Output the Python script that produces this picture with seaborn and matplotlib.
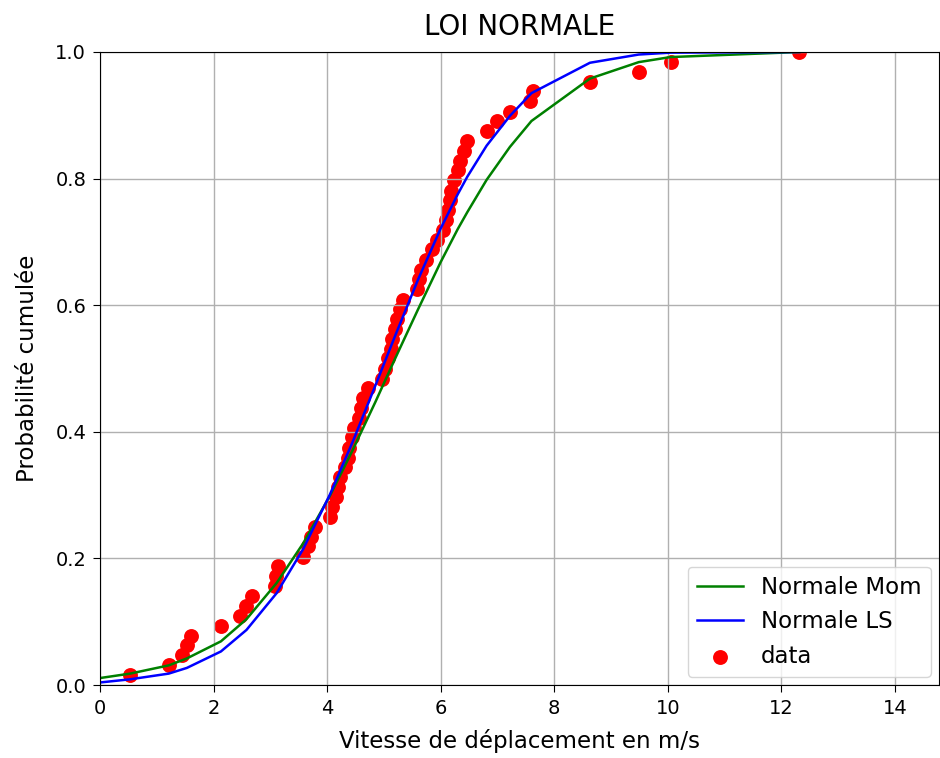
import matplotlib
matplotlib.use("Agg")
import matplotlib.pyplot as plt
import seaborn as sns

# ---- data ----
speed = [0.53, 1.21, 1.44, 1.53, 1.60, 2.13, 2.46, 2.58, 2.67, 3.08,
         3.10, 3.13, 3.58, 3.66, 3.72, 3.79, 4.05, 4.08, 4.15, 4.19,
         4.23, 4.31, 4.36, 4.39, 4.43, 4.47, 4.56, 4.60, 4.63, 4.72,
         4.97, 5.02, 5.08, 5.12, 5.15, 5.20, 5.23, 5.28, 5.34, 5.58,
         5.62, 5.65, 5.74, 5.84, 5.93, 6.04, 6.09, 6.13, 6.16, 6.19,
         6.23, 6.30, 6.35, 6.42, 6.47, 6.81, 7.00, 7.22, 7.57, 7.62,
         8.63, 9.49, 10.06, 12.32]
prob = [0.016, 0.031, 0.047, 0.063, 0.078, 0.094, 0.109, 0.125, 0.141, 0.156,
        0.172, 0.188, 0.203, 0.219, 0.234, 0.250, 0.266, 0.281, 0.297, 0.313,
        0.328, 0.344, 0.359, 0.375, 0.391, 0.406, 0.422, 0.438, 0.453, 0.469,
        0.484, 0.500, 0.516, 0.531, 0.547, 0.563, 0.578, 0.594, 0.609, 0.625,
        0.641, 0.656, 0.672, 0.688, 0.703, 0.719, 0.734, 0.750, 0.766, 0.781,
        0.797, 0.813, 0.828, 0.844, 0.859, 0.875, 0.891, 0.906, 0.922, 0.938,
        0.953, 0.969, 0.984, 1.000]

line_x = [0.0, 0.53, 1.21, 1.53, 2.13, 2.58, 3.11, 3.58, 4.05, 4.45, 4.85,
          5.20, 5.60, 6.00, 6.30, 6.47, 6.81, 7.22, 7.60, 8.63, 9.49, 10.05, 12.32]
mom_y = [0.011, 0.018, 0.031, 0.042, 0.069, 0.104, 0.161, 0.224, 0.299, 0.371,
         0.447, 0.516, 0.593, 0.668, 0.720, 0.747, 0.798, 0.850, 0.891, 0.958,
         0.984, 0.992, 1.000]
ls_y = [0.004, 0.009, 0.018, 0.027, 0.053, 0.087, 0.145, 0.215, 0.301, 0.384,
        0.473, 0.552, 0.640, 0.721, 0.775, 0.803, 0.852, 0.899, 0.935, 0.983,
        0.996, 0.999, 1.000]

fig, ax = plt.subplots(figsize=(9.4, 7.58), dpi=100)
fig.subplots_adjust(left=0.1064, right=0.999, top=0.9314, bottom=0.0963)

sns.lineplot(x=line_x, y=mom_y, color="green", linewidth=1.8,
             label="Normale Mom", ax=ax, sort=False, estimator=None)
sns.lineplot(x=line_x, y=ls_y, color="blue", linewidth=1.8,
             label="Normale LS", ax=ax, sort=False, estimator=None)
sns.scatterplot(x=speed, y=prob, color="red", s=115, linewidth=0,
                label="data", ax=ax, zorder=1)

ax.set_xlim(0, 14.78)
ax.set_ylim(0, 1.0)
ax.set_xticks([0, 2, 4, 6, 8, 10, 12, 14])
ax.set_yticks([0.0, 0.2, 0.4, 0.6, 0.8, 1.0])
ax.grid(True, color="#b0b0b0", linewidth=1.0)
ax.tick_params(labelsize=14, pad=5, length=5)
ax.set_title("LOI NORMALE", fontsize=20, pad=12)
ax.set_xlabel("Vitesse de déplacement en m/s", fontsize=16.5, labelpad=8)
ax.set_ylabel("Probabilité cumulée", fontsize=16.5, labelpad=12)
ax.legend(loc="lower right", fontsize=16.5, borderaxespad=0.35)

fig.savefig("out.png", dpi=100)
